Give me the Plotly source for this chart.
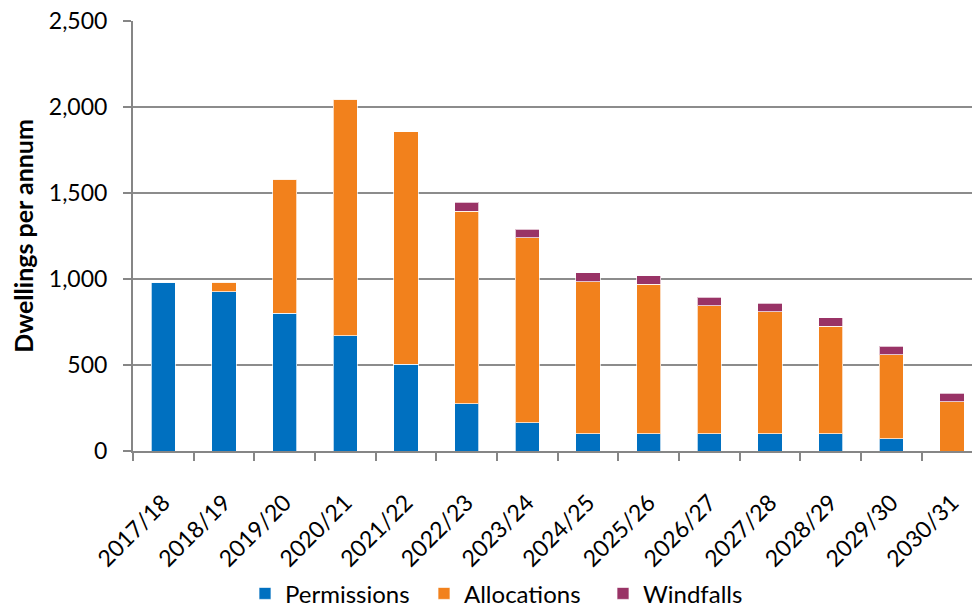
import plotly.graph_objects as go

categories = ["2017/18", "2018/19", "2019/20", "2020/21", "2021/22", "2022/23", "2023/24",
              "2024/25", "2025/26", "2026/27", "2027/28", "2028/29", "2029/30", "2030/31"]
permissions = [980, 925, 800, 670, 505, 275, 165, 100, 100, 100, 100, 100, 70, 0]
allocations = [0, 55, 780, 1375, 1350, 1120, 1075, 885, 870, 745, 710, 625, 490, 285]
windfalls = [0, 0, 0, 0, 0, 50, 50, 50, 50, 50, 50, 50, 50, 50]

FONT = "Lato"
edge = dict(color="rgba(255,255,255,0.7)", width=1)

fig = go.Figure()
fig.add_trace(go.Bar(name="Permissions", x=categories, y=permissions,
                     marker=dict(color="#0070C0", line=edge)))
fig.add_trace(go.Bar(name="Allocations", x=categories, y=allocations,
                     marker=dict(color="#F2811C", line=edge)))
fig.add_trace(go.Bar(name="Windfalls", x=categories, y=windfalls,
                     marker=dict(color="#993366", line=edge)))

fig.update_layout(
    barmode="stack",
    bargap=0.6,
    width=972, height=609,
    margin=dict(l=133, r=0, t=21, b=158),
    plot_bgcolor="white", paper_bgcolor="white",
    font=dict(family=FONT, size=20, color="#000000"),
    legend=dict(orientation="h", xref="paper", x=0.1335, xanchor="left",
                yref="container", y=0.025, yanchor="middle",
                traceorder="normal", font=dict(family=FONT, size=24),
                itemwidth=30, tracegroupgap=0,
                entrywidth=134, entrywidthmode="pixels"),
    xaxis=dict(range=[-0.5, 13.33], tickangle=-45, tickson="boundaries",
               ticks="outside", ticklen=8, tickcolor="#868686", tickwidth=1.5,
               showline=True, linecolor="#868686", linewidth=2,
               tickfont=dict(family=FONT, size=23), showgrid=False,
               automargin=False, ticklabelstandoff=27),
    yaxis=dict(range=[0, 2500], tickvals=[0, 500, 1000, 1500, 2000, 2500],
               ticktext=["0", "500", "1,000", "1,500", "2,000", "2,500"],
               ticks="outside", ticklen=8, tickcolor="#868686", tickwidth=1.5,
               showline=True, linecolor="#868686", linewidth=2,
               showgrid=True, gridcolor="#8C8C8C", gridwidth=1.5,
               zeroline=False, automargin=False, ticklabelstandoff=11,
               tickfont=dict(family=FONT, size=23),
               title=dict(text="<b>Dwellings per annum</b>", font=dict(family=FONT, size=25),
                          standoff=8)),
)

fig.write_html("out.html")
